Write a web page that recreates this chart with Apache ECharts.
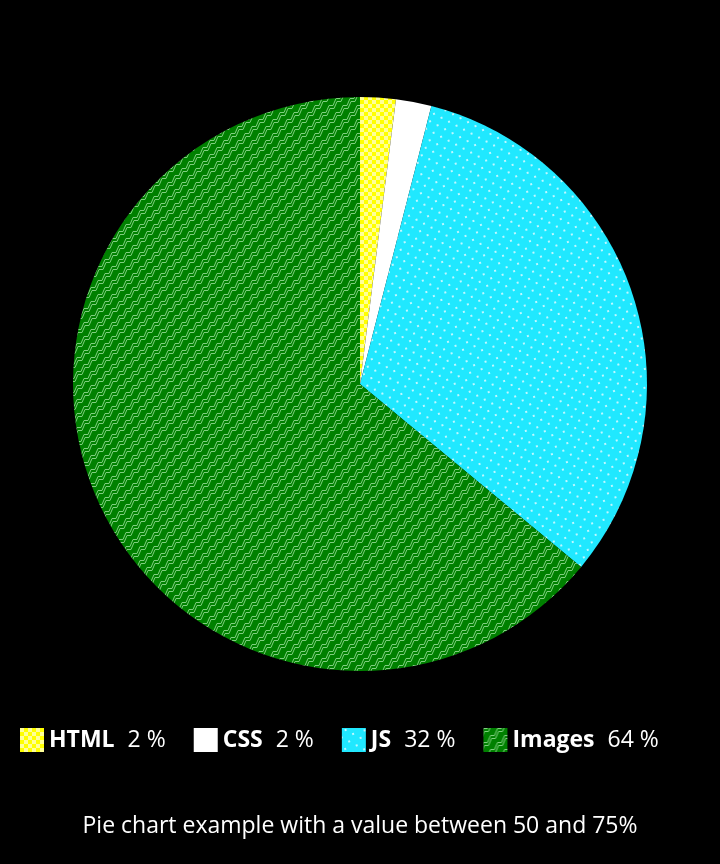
<!DOCTYPE html>
<html>
<head>
<meta charset="utf-8">
<script src="https://cdn.jsdelivr.net/npm/echarts@6/dist/echarts.min.js"></script>
<style>
  html, body { margin: 0; padding: 0; background: #000; }
  #chart { width: 720px; height: 864px; }
</style>
</head>
<body>
<div id="chart"></div>
<script>
  var categories = ['HTML', 'CSS', 'JS', 'Images']
  var values = [2, 2, 32, 64]
  var titleText = 'Pie chart example with a value between 50 and 75%'

  function makeTile(w, h, draw) {
    var c = document.createElement('canvas')
    c.width = w
    c.height = h
    draw(c.getContext('2d'))
    return c
  }

  // yellow checkerboard
  var checker = makeTile(8, 8, function (ctx) {
    ctx.fillStyle = '#ffff00'
    ctx.fillRect(0, 0, 8, 8)
    ctx.fillStyle = '#ffff99'
    ctx.fillRect(0, 0, 4, 4)
    ctx.fillRect(4, 4, 4, 4)
  })

  // cyan with small dots
  var dots = makeTile(12, 12, function (ctx) {
    ctx.fillStyle = '#20e8ff'
    ctx.fillRect(0, 0, 12, 12)
    ctx.fillStyle = '#bff7ff'
    ctx.fillRect(2, 2, 2, 2)
    ctx.fillRect(8, 8, 2, 2)
  })

  // green staircase double lines
  var zigzag = makeTile(14, 14, function (ctx) {
    ctx.fillStyle = '#008000'
    ctx.fillRect(0, 0, 14, 14)
    ctx.strokeStyle = '#7fcf7f'
    ctx.lineWidth = 1
    function stair(x, y) {
      ctx.beginPath()
      ctx.moveTo(x, y)
      for (var k = 0; k < 8; k++) {
        x += 4
        ctx.lineTo(x, y)
        x += 3
        y -= 7
        ctx.lineTo(x, y)
      }
      ctx.stroke()
    }
    for (var s = -42; s <= 14; s += 14) {
      stair(s - 14, 42.5)
      stair(s - 13, 45.5)
    }
  })

  var fills = [
    { image: checker, repeat: 'repeat' },
    '#ffffff',
    { image: dots, repeat: 'repeat', rotation: -0.3 },
    { image: zigzag, repeat: 'repeat' }
  ]

  var chart = echarts.init(document.getElementById('chart'))
  chart.setOption({
    backgroundColor: '#000',
    animation: false,
    title: {
      text: titleText,
      left: 'center',
      top: 810,
      textStyle: {
        color: '#fff',
        fontSize: 23,
        fontWeight: 'normal',
        fontFamily: 'Open Sans'
      }
    },
    legend: {
      left: 15,
      top: 723,
      icon: 'rect',
      itemWidth: 24,
      itemHeight: 24,
      itemGap: 28,
      data: categories,
      formatter: function (name) {
        var i = categories.indexOf(name)
        return '{n|' + name + '}{v|' + values[i] + ' %}'
      },
      textStyle: {
        color: '#fff',
        rich: {
          n: { fontSize: 23, fontWeight: 'bold', color: '#fff', fontFamily: 'Open Sans' },
          v: { fontSize: 23, color: '#fff', fontFamily: 'Open Sans', padding: [0, 0, 0, 13] }
        }
      }
    },
    series: [{
      type: 'pie',
      center: [360, 384],
      radius: 287,
      startAngle: 90,
      clockwise: true,
      label: { show: false },
      labelLine: { show: false },
      emphasis: { disabled: true },
      itemStyle: { borderWidth: 0 },
      data: categories.map(function (c, i) {
        return { name: c, value: values[i], itemStyle: { color: fills[i] } }
      })
    }]
  })
</script>
</body>
</html>
